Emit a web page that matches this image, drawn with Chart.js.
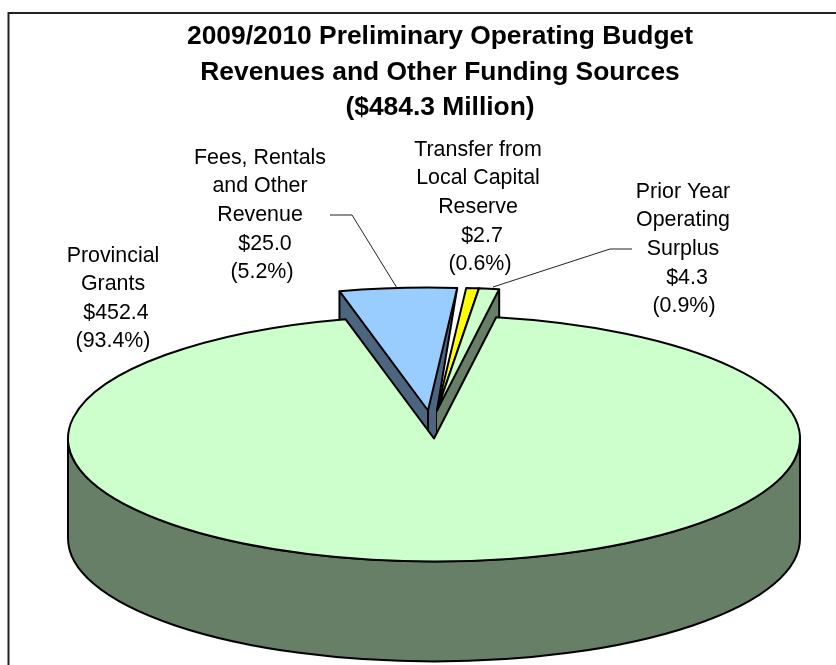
<!DOCTYPE html>
<html>
<head>
<meta charset="utf-8">
<style>html,body{margin:0;padding:0;background:#fff}canvas{display:block}</style>
<script src="https://cdn.jsdelivr.net/npm/chart.js@4"></script>
</head>
<body>
<canvas id="c" width="836" height="665"></canvas>
<script>
const categories = ['Fees, Rentals and Other Revenue', 'Transfer from Local Capital Reserve', 'Prior Year Operating Surplus', 'Provincial Grants'];
const values = [25.0, 2.7, 4.3, 452.4];
const percents = ['5.2%', '0.6%', '0.9%', '93.4%'];
const titleLines = ['2009/2010 Preliminary Operating Budget', 'Revenues and Other Funding Sources', '($484.3 Million)'];
const labelLines = [['Fees, Rentals', 'and Other', 'Revenue'], ['Transfer from', 'Local Capital', 'Reserve'], ['Prior Year', 'Operating', 'Surplus'], ['Provincial', 'Grants']];
const sliceColors = ['#99CCFF', '#FFFF00', '#CCFFCC', '#CCFFCC'];
const wallColors = ['#4C6680', '#808000', '#667F66', '#667F66'];

// Drawing settings for the tilted pie
const CX = 434, CY = 438.5, RX = 366, RY = 123, DEPTH = 100;
const EXPLODE = [[-6, -28], [3, -28], [3, -28], [0, 0]];
const LABEL_POS = [
  {x: 260, y: 158, dy: 28.6, valX: 265, pctX: 262},
  {x: 478, y: 150, dy: 28.6, valX: 482, pctX: 480},
  {x: 683, y: 192, dy: 28.6, valX: 687, pctX: 684},
  {x: 113, y: 256, dy: 28.4, valX: 116, pctX: 113}
];
const LEADERS = [[[330, 215], [352, 215], [397, 288]], [[632, 249], [610, 249], [493, 287]]];

function project(ctx, arc, ex) {
  ctx.translate(CX + ex[0], CY + ex[1]);
  ctx.scale(1, RY / RX);
  ctx.translate(-arc.x, -arc.y);
}
function corner(arc, angle, ex) {
  return [CX + ex[0] + RX * Math.cos(angle), CY + ex[1] + RY * Math.sin(angle)];
}
function strokeLine(ctx, pts) {
  ctx.beginPath();
  pts.forEach((p, i) => i ? ctx.lineTo(p[0], p[1]) : ctx.moveTo(p[0], p[1]));
  ctx.stroke();
}
function fillPoly(ctx, pts, color) {
  ctx.beginPath();
  pts.forEach((p, i) => i ? ctx.lineTo(p[0], p[1]) : ctx.moveTo(p[0], p[1]));
  ctx.closePath();
  ctx.fillStyle = color;
  ctx.fill();
}
function drawFace(ctx, arc, ex) {
  ctx.save();
  project(ctx, arc, ex);
  arc.draw(ctx);
  ctx.restore();
  ctx.save();
  ctx.beginPath();
  ctx.save();
  project(ctx, arc, ex);
  ctx.moveTo(arc.x, arc.y);
  ctx.arc(arc.x, arc.y, arc.outerRadius, arc.startAngle, arc.endAngle);
  ctx.closePath();
  ctx.restore();
  ctx.stroke();
  ctx.restore();
}

const pie3d = {
  id: 'pie3d',
  beforeDraw(chart) {
    const ctx = chart.ctx;
    ctx.save();
    ctx.fillStyle = '#fff';
    ctx.fillRect(0, 0, chart.width, chart.height);
    ctx.strokeStyle = '#222';
    ctx.lineWidth = 2;
    ctx.strokeRect(8.5, 13, 900, 900);
    ctx.restore();
  },
  beforeDatasetsDraw(chart) {
    const ctx = chart.ctx;
    const arcs = chart.getDatasetMeta(0).data;
    ctx.save();
    ctx.lineWidth = 2;
    ctx.strokeStyle = '#000';
    ctx.lineJoin = 'round';

    // exploded slices: walls first
    const [fees, transfer, prior, grants] = arcs;
    const a0 = [CX + EXPLODE[0][0], CY + EXPLODE[0][1]];
    const a1 = [CX + EXPLODE[1][0], CY + EXPLODE[1][1]];
    const down = p => [p[0], p[1] + DEPTH];
    const c1 = corner(fees, fees.startAngle, EXPLODE[0]);
    const c2 = corner(fees, fees.endAngle, EXPLODE[0]);
    fillPoly(ctx, [c1, down(c1), down(a0), down(a1), a1, c2], wallColors[0]);
    strokeLine(ctx, [c1, down(c1)]);
    strokeLine(ctx, [a0, down(a0)]);
    strokeLine(ctx, [c2, a1, down(a1)]);
    const c3 = corner(prior, prior.endAngle, EXPLODE[2]);
    fillPoly(ctx, [a1, c3, down(c3), down(a1)], wallColors[2]);
    strokeLine(ctx, [c3, down(c3)]);
    // exploded faces
    [fees, transfer, prior].forEach((arc, i) => drawFace(ctx, arc, EXPLODE[i]));

    // main slice wall (front half of the ellipse)
    ctx.save();
    ctx.beginPath();
    ctx.save();
    project(ctx, grants, EXPLODE[3]);
    ctx.arc(grants.x, grants.y, RX, 0, Math.PI);
    ctx.restore();
    ctx.save();
    ctx.translate(0, DEPTH);
    project(ctx, grants, EXPLODE[3]);
    ctx.arc(grants.x, grants.y, RX, Math.PI, 0, true);
    ctx.restore();
    ctx.closePath();
    ctx.fillStyle = wallColors[3];
    ctx.fill();
    ctx.stroke();
    ctx.restore();
    drawFace(ctx, grants, EXPLODE[3]);
    ctx.restore();

    // leader lines
    ctx.save();
    ctx.strokeStyle = '#222';
    ctx.lineWidth = 1;
    LEADERS.forEach(l => strokeLine(ctx, l));
    ctx.restore();

    // data labels
    ctx.save();
    ctx.font = '21.4px "Liberation Sans", Arial, sans-serif';
    ctx.fillStyle = '#000';
    ctx.textAlign = 'center';
    ctx.textBaseline = 'middle';
    labelLines.forEach((lines, i) => {
      const p = LABEL_POS[i];
      lines.forEach((t, j) => ctx.fillText(t, p.x, p.y + j * p.dy));
      ctx.fillText('$' + values[i].toFixed(1), p.valX, p.y + lines.length * p.dy);
      ctx.fillText('(' + percents[i] + ')', p.pctX, p.y + (lines.length + 1) * p.dy);
    });
    ctx.restore();
    return false;
  }
};

new Chart(document.getElementById('c'), {
  type: 'pie',
  data: {
    labels: categories,
    datasets: [{
      data: values,
      backgroundColor: sliceColors,
      borderWidth: 0,
      radius: RX
    }]
  },
  options: {
    responsive: false,
    devicePixelRatio: 1,
    animation: false,
    rotation: -14,
    layout: {padding: {left: 44, top: 0}},
    plugins: {
      legend: {display: false},
      tooltip: {enabled: false},
      title: {
        display: true,
        text: titleLines,
        color: '#000',
        font: {family: '"Liberation Sans", Arial, sans-serif', size: 26.4, weight: 'bold', lineHeight: 1.345},
        padding: {top: 19, bottom: 0}
      }
    }
  },
  plugins: [pie3d]
});
</script>
</body>
</html>
